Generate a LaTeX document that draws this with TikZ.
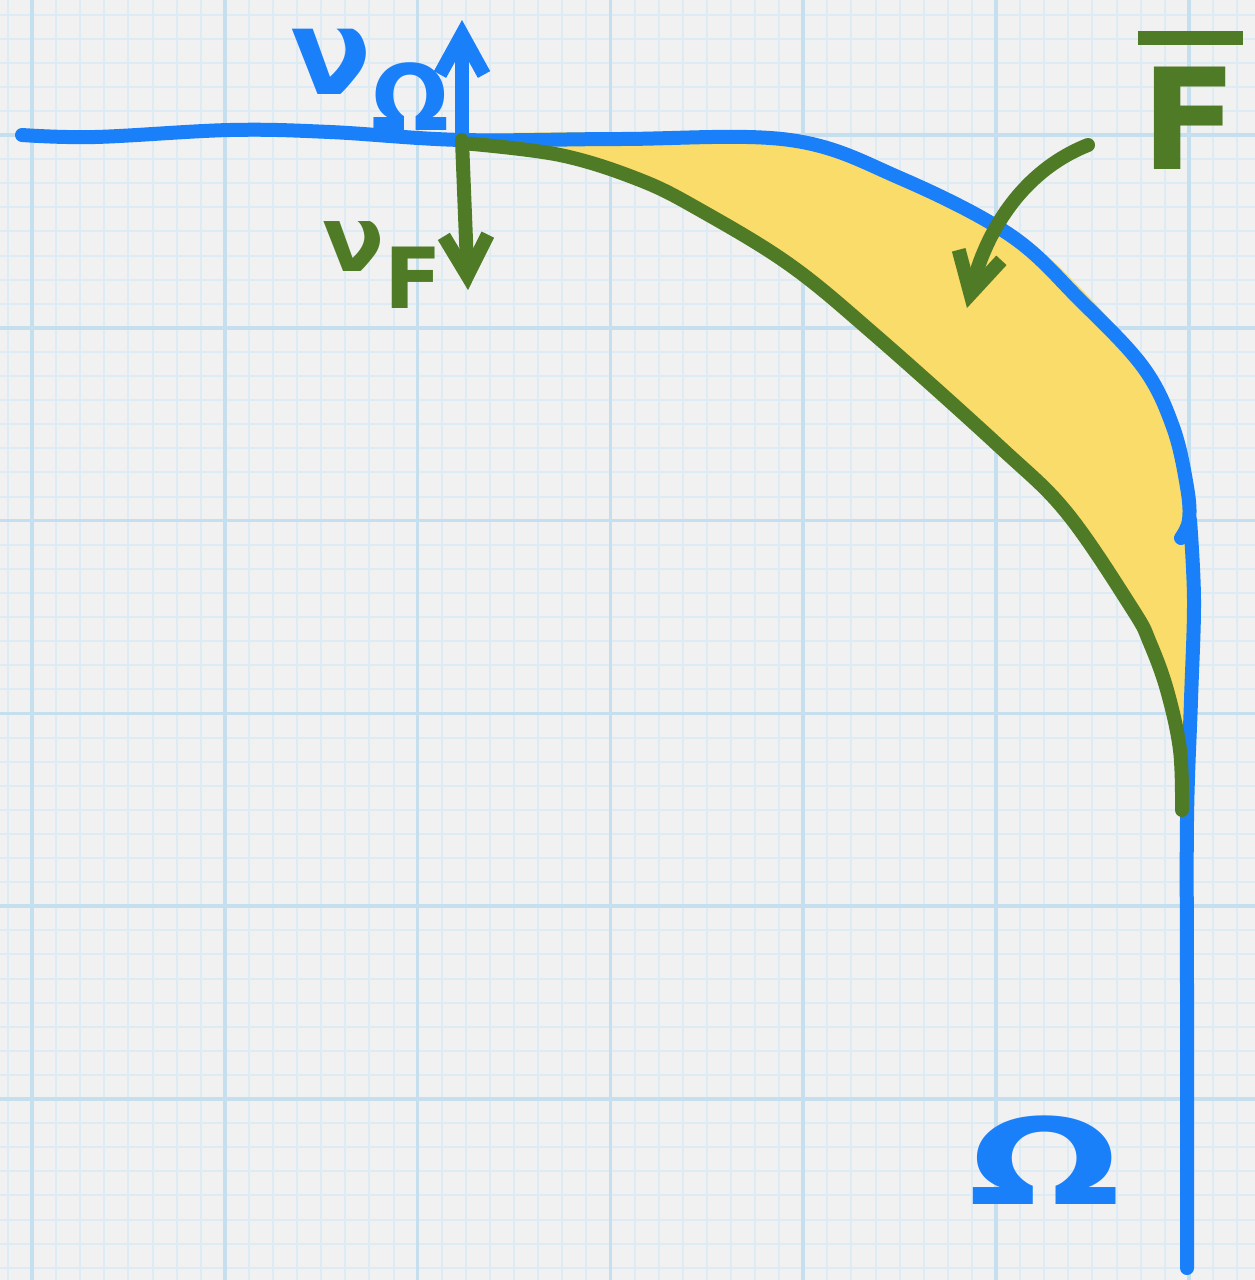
\documentclass[tikz,border=0pt]{standalone}
\usepackage{fontspec}
\usetikzlibrary{arrows.meta}
\newfontfamily\handfont{DejaVu Sans}

\definecolor{paper}{HTML}{F1F1F1}
\definecolor{minorline}{HTML}{DCEBF4}
\definecolor{majorline}{HTML}{C6DFEE}
\definecolor{omegablue}{HTML}{1A80FA}
\definecolor{fgreen}{HTML}{4F7B27}
\definecolor{fyellow}{HTML}{F9DC6A}

\tikzset{
  minorgrid/.style={minorline, line width=0.2mm},
  majorgrid/.style={majorline, line width=0.35mm},
  omega/.style={omegablue, line width=1.4mm, line cap=round, line join=round},
  fline/.style={fgreen, line width=1.4mm, line cap=round, line join=round},
  barb/.style={-{Straight Barb[length=4mm, width=4.4mm]}},
  label/.style={font=\handfont\bfseries\fontsize{34}{34}\selectfont, inner sep=0pt}
}

\begin{document}
\begin{tikzpicture}[x=0.1mm, y=-0.1mm]
\useasboundingbox (0,0) rectangle (1255,1280);
% Draw paper
\fill[paper] (0,0) rectangle (1255,1280);

% Draw grid
\foreach \i in {-1,...,51}
  \draw[minorgrid] ({32+24.1*\i},0) -- ({32+24.1*\i},1280);
\foreach \i in {-5,...,47}
  \draw[minorgrid] (0,{135+24.1*\i}) -- (1255,{135+24.1*\i});
\foreach \i in {0,...,6}
  \draw[majorgrid] ({32+192.8*\i},0) -- ({32+192.8*\i},1280);
\foreach \i in {-1,...,5}
  \draw[majorgrid] (0,{135+192.8*\i}) -- (1255,{135+192.8*\i});

% Fill region between the two boundaries
\fill[fyellow] plot[smooth, tension=0.6] coordinates {(495,133) (620,132) (790,134) (900,171) (1010,227) (1085,293) (1152,372) (1180,428) (1189,487) (1189,530) (1186,700) (1184,780)}
  -- plot[smooth, tension=0.6] coordinates {(1180,750) (1167,690) (1150,643) (1133,610) (1067,513) (1000,447) (875,335) (790,265) (700,210) (640,180) (560,155) (495,146)}
  -- cycle;

% Draw boundary of Omega
\draw[omega] plot[smooth, tension=0.6] coordinates {(22,135) (95,137) (230,130) (330,132) (462,140) (620,139) (790,140) (900,178) (1010,235) (1080,300) (1143,367) (1173,427) (1187,487) (1189,520) (1181,538)};
\draw[omega] plot[smooth, tension=0.6] coordinates {(1190,520) (1194,600) (1191,700) (1187,820) (1187,1000) (1187,1268)};

% Draw boundary of F
\draw[fline] plot[smooth, tension=0.6] coordinates {(462,143) (560,155) (640,180) (700,210) (790,265) (875,335) (1000,447) (1067,513) (1133,610) (1150,643) (1167,690) (1180,750) (1182,810)};

% Normals at the contact point
\coordinate (contact) at (462,140);
\coordinate (nOmegaTip) at (462,20);
\coordinate (nFTip) at (468,290);
\draw[omega, barb] (contact) -- (nOmegaTip);
\draw[fline, barb] (contact) -- (nFTip);

% Labels
\node[label, omegablue] (nuOmega) at (370,80) {ν\raisebox{-0.55ex}{\fontsize{26}{26}\selectfont Ω}};
\node[label, fgreen, font=\handfont\bfseries\fontsize{26}{26}\selectfont] (nuF) at (382,265) {ν\raisebox{-0.75ex}{\fontsize{24}{24}\selectfont F}};
\node[label, fgreen] (Fbar) at (1190,100) {\vbox{\hrule height 1.4mm width 10.5mm \kern 2.2mm \hbox to 10.5mm{\hss\fontsize{40}{40}\selectfont F\hss}}};
\node[label, omegablue, xscale=1.5] (Omega) at (1045,1160) {Ω};

% Arrow from label to region
\coordinate (Fstart) at (1088,145);
\coordinate (Ftip) at (967,308);
\draw[fline, barb] (Fstart) .. controls (1020,172) and (985,235) .. (Ftip);
\end{tikzpicture}
\end{document}
